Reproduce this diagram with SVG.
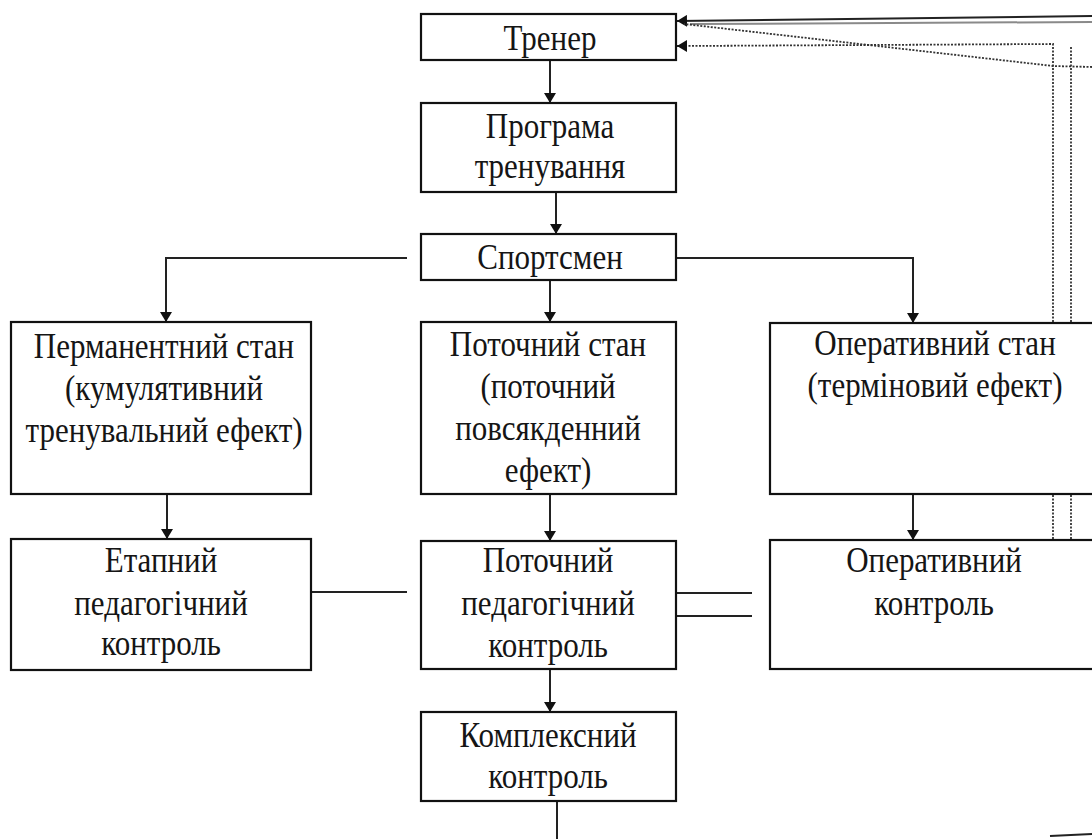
<svg xmlns="http://www.w3.org/2000/svg" width="1092" height="839" viewBox="0 0 1092 839">
<style>
.box{fill:#fff;stroke:#111;stroke-width:2.2}
.t{font-family:"Liberation Serif","Times New Roman",serif;font-size:31px;fill:#151515;text-anchor:middle}
.c{fill:none;stroke:#222;stroke-width:2}
.g{fill:none;stroke:#8a8a8a;stroke-width:2}
.d{fill:none;stroke:#333;stroke-width:1.8;stroke-dasharray:2 1.5}
</style>
<defs>
<marker id="a" viewBox="0 0 10 10" refX="10" refY="5" markerWidth="10" markerHeight="12" orient="auto" markerUnits="userSpaceOnUse" preserveAspectRatio="none">
<path d="M0,0 L10,5 L0,10 z" fill="#111"/>
</marker>
</defs>
<rect width="1092" height="839" fill="#fff"/>

<g id="connectors">
<line class="c" x1="550" y1="60" x2="550" y2="103" marker-end="url(#a)"/>
<line class="c" x1="556" y1="192" x2="556" y2="234" stroke-width="3" marker-end="url(#a)"/>
<polyline class="c" points="407,258 166,258 166,322" marker-end="url(#a)"/>
<line class="c" x1="550" y1="280" x2="550" y2="322" marker-end="url(#a)"/>
<polyline class="c" points="672,258 913,258 913,323" marker-end="url(#a)"/>
<line class="c" x1="167" y1="494" x2="167" y2="539" marker-end="url(#a)"/>
<line class="c" x1="550" y1="494" x2="550" y2="541" marker-end="url(#a)"/>
<line class="c" x1="913" y1="494" x2="913" y2="540" marker-end="url(#a)"/>
<line class="c" x1="307" y1="592" x2="407" y2="592"/>
<line class="c" x1="670" y1="593" x2="752" y2="593"/>
<line class="c" x1="670" y1="616" x2="752" y2="616" stroke="#555" stroke-width="2.6"/>
<line class="c" x1="550" y1="669" x2="550" y2="712" marker-end="url(#a)"/>
<line class="c" x1="557" y1="801" x2="557" y2="839"/>
<line class="c" x1="1092" y1="16" x2="677" y2="21" stroke="#111" marker-end="url(#a)"/>
<line class="g" x1="1092" y1="22" x2="690" y2="24"/>
<polyline class="d" points="1092,67 1053,66 684,24"/>
<polyline class="d" points="1053,574 1053,44 682,46"/>
<line class="c" x1="682" y1="46" x2="677" y2="46" marker-end="url(#a)"/>
<line class="d" x1="1071" y1="47" x2="1071" y2="625"/>
<polyline class="c" points="1073,574 1053,574 1053,598 1092,598" stroke-width="1.6"/>
<line class="c" x1="1065" y1="597" x2="1078" y2="597" stroke-width="3"/>
<line class="c" x1="1050" y1="836" x2="1092" y2="834" stroke="#333" stroke-width="3"/>
</g>

<g id="trener"><rect class="box" x="421" y="14" width="255" height="46"/><text class="t" transform="translate(550,50) scale(1,1.13)">Тренер</text></g>
<g id="programa"><rect class="box" x="421" y="103" width="255" height="89"/><text class="t" transform="translate(550,138) scale(1,1.13)">Програма</text><text class="t" transform="translate(550,178) scale(1,1.13)">тренування</text></g>
<g id="sportsmen"><rect class="box" x="421" y="234" width="255" height="46"/><text class="t" transform="translate(550,269) scale(1,1.13)">Спортсмен</text></g>
<g id="permanent"><rect class="box" x="11" y="322" width="300" height="172"/><text class="t" transform="translate(164,358) scale(1,1.13)">Перманентний стан</text><text class="t" transform="translate(164,400) scale(1,1.13)">(кумулятивний</text><text class="t" transform="translate(164,442) scale(1,1.13)">тренувальний ефект)</text></g>
<g id="potochnyi-stan"><rect class="box" x="421" y="322" width="255" height="172"/><text class="t" transform="translate(548,356) scale(1,1.13)">Поточний стан</text><text class="t" transform="translate(548,398) scale(1,1.13)">(поточний</text><text class="t" transform="translate(548,440) scale(1,1.13)">повсякденний</text><text class="t" transform="translate(548,482) scale(1,1.13)">ефект)</text></g>
<g id="operatyvnyi-stan"><rect class="box" x="770" y="323" width="340" height="171"/><text class="t" transform="translate(935,355) scale(1,1.13)">Оперативний стан</text><text class="t" transform="translate(935,397) scale(1,1.13)">(терміновий ефект)</text></g>
<g id="etapnyi"><rect class="box" x="11" y="539" width="300" height="131"/><text class="t" transform="translate(161,572) scale(1,1.13)">Етапний</text><text class="t" transform="translate(161,615) scale(1,1.13)">педагогічний</text><text class="t" transform="translate(161,655) scale(1,1.13)">контроль</text></g>
<g id="potochnyi-kontrol"><rect class="box" x="421" y="541" width="255" height="128"/><text class="t" transform="translate(548,572) scale(1,1.13)">Поточний</text><text class="t" transform="translate(548,615) scale(1,1.13)">педагогічний</text><text class="t" transform="translate(548,657) scale(1,1.13)">контроль</text></g>
<g id="operatyvnyi-kontrol"><rect class="box" x="770" y="540" width="340" height="129"/><text class="t" transform="translate(934,572) scale(1,1.13)">Оперативний</text><text class="t" transform="translate(934,615) scale(1,1.13)">контроль</text></g>
<g id="kompleksnyi"><rect class="box" x="421" y="712" width="255" height="89"/><text class="t" transform="translate(548,747) scale(1,1.13)">Комплексний</text><text class="t" transform="translate(548,788) scale(1,1.13)">контроль</text></g>
</svg>
